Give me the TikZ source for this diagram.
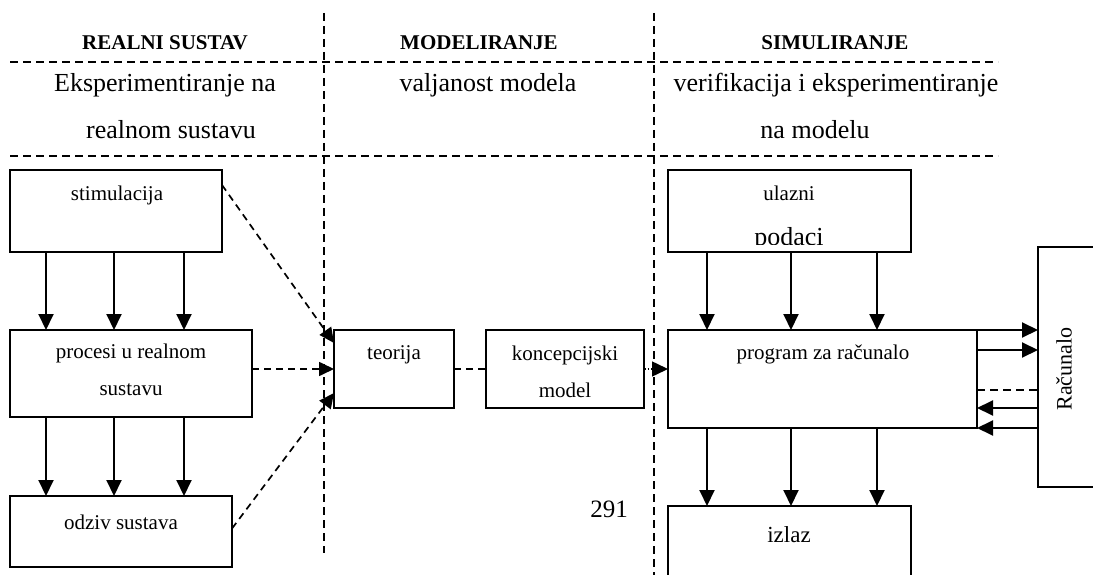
\documentclass[tikz,border=0pt]{standalone}
\usepackage{fontspec}
\setmainfont{Liberation Serif}
\usetikzlibrary{arrows.meta,calc}

\newcommand{\boxfont}{\fontsize{21}{25}\selectfont}
\newcommand{\headfont}{\fontsize{26}{30}\selectfont}
\newcommand{\titlefont}{\fontsize{21}{25}\selectfont\bfseries}

\tikzset{
  blk/.style={draw, line width=2pt, rectangle, inner sep=0pt, outer sep=0pt},
  txt/.style={inner sep=0pt, outer sep=0pt, font=\boxfont},
  divider/.style={line width=1.8pt, dash pattern=on 8pt off 5pt},
  flow/.style={line width=2pt, -{Triangle[length=16pt,width=15pt]}},
  dflow/.style={line width=1.7pt, dash pattern=on 7pt off 5pt, -{Triangle[length=15pt,width=14pt]}},
  dlink/.style={line width=1.7pt, dash pattern=on 7pt off 5pt},
}

\begin{document}
\begin{tikzpicture}[x=1pt,y=-1pt]
\useasboundingbox (0,0) rectangle (1093,575);
\clip (0,0) rectangle (1093,575);

% section dividers
\coordinate (v1t) at (324,13);  \coordinate (v1b) at (324,553);
\coordinate (v2t) at (654,13);  \coordinate (v2b) at (654,580);
\coordinate (h1l) at (10,62);   \coordinate (h1r) at (998,62);
\coordinate (h2l) at (10,156);  \coordinate (h2r) at (998,156);
\draw[divider] (v1t) -- (v1b);
\draw[divider] (v2t) -- (v2b);
\draw[divider] (h1l) -- (h1r);
\draw[divider] (h2l) -- (h2r);

% column headings
\node[txt, font=\titlefont] (t1) at (165,43) {REALNI SUSTAV};
\node[txt, font=\titlefont] (t2) at (479,43) {MODELIRANJE};
\node[txt, font=\titlefont] (t3) at (835,43) {SIMULIRANJE};
\node[txt, font=\headfont] (d1a) at (165,85) {Eksperimentiranje na};
\node[txt, font=\headfont] (d1b) at (171,130) {realnom sustavu};
\node[txt, font=\headfont] (d2)  at (488,85) {valjanost modela};
\node[txt, font=\headfont] (d3a) at (836,85) {verifikacija i eksperimentiranje};
\node[txt, font=\headfont] (d3b) at (815,130) {na modelu};

% blocks
\node[blk, minimum width=212pt, minimum height=82pt] (stim) at (116,211) {};
\node[blk, minimum width=242pt, minimum height=87pt] (proc) at (131,373.5) {};
\node[blk, minimum width=222pt, minimum height=71pt] (odz)  at (121,531.5) {};
\node[blk, minimum width=120pt, minimum height=78pt] (teo)  at (394,369) {};
\node[blk, minimum width=158pt, minimum height=78pt] (konc) at (565,369) {};
\node[blk, minimum width=243pt, minimum height=82pt] (ulaz) at (789.5,211) {};
\node[blk, minimum width=309pt, minimum height=98pt] (prog) at (822.5,379) {};
\node[blk, minimum width=243pt, minimum height=90pt] (izl)  at (789.5,551) {};
\node[blk, minimum width=80pt, minimum height=240pt] (rac)  at (1078,367) {};

% block texts
\node[txt] (stimT) at (117,195) {stimulacija};
\node[txt] (procT1) at (131,353) {procesi u realnom};
\node[txt] (procT2) at (131,390) {sustavu};
\node[txt] (odzT) at (121,522) {odziv sustava};
\node[txt] (teoT) at (394,355) {teorija};
\node[txt] (koncT1) at (565,355) {koncepcijski};
\node[txt] (koncT2) at (565,390) {model};
\node[txt] (ulazT1) at (789,193) {ulazni};
\begin{scope}
  \clip (670,172) rectangle (909,244);
  \node[txt, font=\headfont, anchor=base] (ulazT2) at (789,245) {podaci};
\end{scope}
\node[txt] (progT) at (823,354) {program za računalo};
\node[txt, font=\fontsize{23}{27}\selectfont] (izlT) at (789,535) {izlaz};
\node[txt, font=\fontsize{22}{26}\selectfont, rotate=90] (racT) at (1064,369) {Računalo};
\node[txt, font=\fontsize{25}{29}\selectfont] (pg) at (609,509) {291};

% real system flows
\foreach \x in {46,114,184}{
  \draw[flow] (\x,0 |- stim.south) -- (\x,0 |- proc.north);
  \draw[flow] (\x,0 |- proc.south) -- (\x,0 |- odz.north);
}

% simulation flows
\foreach \x in {707,791,877}{
  \draw[flow] (\x,0 |- ulaz.south) -- (\x,0 |- prog.north);
  \draw[flow] (\x,0 |- prog.south) -- (\x,0 |- izl.north);
}

% links into theory
\draw[dflow] ($(stim.north east)+(0,15)$) -- ($(teo.north west)+(0,13)$);
\draw[dflow] (teo.west -| proc.east) -- (teo.west);
\draw[dflow] ($(odz.east)+(0,-3)$) -- ($(teo.south west)+(0,-15)$);
\draw[dlink] (teo.east) -- (konc.west);
\draw[line width=1.5pt, dotted, -{Triangle[length=16pt,width=15pt]}] (konc.east) -- (konc.east -| prog.west);

% program <-> computer
\coordinate (p1) at ($(prog.north east)+(0,20)$);
\coordinate (p2) at ($(prog.north east)+(0,60)$);
\coordinate (p3) at ($(prog.south east)+(0,-20)$);
\draw[flow] (prog.north east) -- (prog.north east -| rac.west);
\draw[flow] (p1) -- (p1 -| rac.west);
\draw[line width=1.7pt, dash pattern=on 8pt off 5pt] (p2) -- (p2 -| rac.west);
\draw[flow] (p3 -| rac.west) -- (p3);
\draw[flow] (prog.south east -| rac.west) -- (prog.south east);
\end{tikzpicture}
\end{document}
